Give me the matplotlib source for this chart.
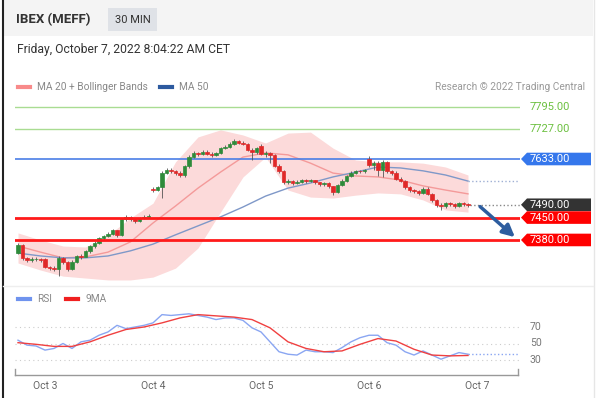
import numpy as np
import matplotlib.pyplot as plt
from matplotlib import transforms
from matplotlib.patches import Polygon, Rectangle
from matplotlib.lines import Line2D

plt.rcParams['font.family'] = ['Roboto', 'DejaVu Sans']

# ----------------------------
# data (30 min bars, IBEX futures)
# ----------------------------
opens = [
    7340, 7365, 7325, 7318, 7320, 7322,
    7322, 7296, 7292, 7290, 7325, 7310, 7290, 7312, 7330, 7328, 7345, 7360, 7372, 7385, 7392, 7400, 7410, 7395, 7445, 7452, 7446, 7440, 7448, 7452,
    7540, 7536, 7545, 7590, 7600, 7595, 7590, 7582, 7610, 7640, 7652, 7648, 7656, 7650, 7646, 7652, 7668, 7672, 7680, 7688, 7684, 7680, 7662, 7655,
    7675, 7648, 7652, 7645, 7612, 7595, 7560, 7565, 7558, 7562, 7566, 7563, 7566, 7560, 7556, 7558, 7548, 7530, 7552, 7565, 7580, 7590, 7596, 7594,
    7632, 7614, 7622, 7600, 7624, 7596, 7590, 7572, 7565, 7545, 7536, 7533, 7528, 7540, 7525, 7505, 7490, 7485, 7496, 7492, 7485, 7494, 7492,
]
closes = [
    7365, 7325, 7318, 7320, 7322, 7318,
    7296, 7292, 7290, 7325, 7310, 7290, 7312, 7330, 7328, 7345, 7360, 7372, 7385, 7392, 7400, 7410, 7395, 7445, 7452, 7446, 7440, 7448, 7452, 7456,
    7536, 7545, 7590, 7600, 7595, 7590, 7582, 7610, 7640, 7652, 7648, 7656, 7650, 7646, 7652, 7668, 7672, 7680, 7688, 7684, 7680, 7662, 7655, 7668,
    7648, 7652, 7645, 7612, 7595, 7560, 7565, 7558, 7562, 7566, 7563, 7566, 7560, 7556, 7558, 7548, 7530, 7552, 7565, 7580, 7590, 7596, 7594, 7598,
    7614, 7622, 7600, 7624, 7596, 7590, 7572, 7565, 7545, 7536, 7533, 7528, 7540, 7525, 7505, 7490, 7485, 7496, 7492, 7485, 7494, 7492, 7490,
]
highs = [
    7372, 7368, 7328, 7326, 7327, 7325,
    7325, 7300, 7298, 7330, 7328, 7314, 7316, 7334, 7335, 7350, 7364, 7376, 7390, 7396, 7405, 7414, 7412, 7450, 7458, 7455, 7450, 7452, 7457, 7460,
    7546, 7550, 7596, 7606, 7604, 7598, 7594, 7614, 7645, 7658, 7656, 7662, 7660, 7654, 7656, 7672, 7678, 7686, 7694, 7692, 7688, 7683, 7666, 7672,
    7680, 7658, 7656, 7648, 7616, 7598, 7570, 7568, 7566, 7570, 7570, 7570, 7568, 7562, 7562, 7560, 7550, 7556, 7570, 7584, 7594, 7600, 7600, 7602,
    7642, 7628, 7628, 7630, 7628, 7600, 7594, 7578, 7568, 7548, 7540, 7536, 7544, 7544, 7528, 7508, 7494, 7500, 7500, 7496, 7498, 7498, 7494,
]
lows = [
    7335, 7318, 7310, 7312, 7314, 7312,
    7292, 7286, 7284, 7268, 7304, 7282, 7286, 7308, 7322, 7326, 7340, 7356, 7368, 7380, 7388, 7396, 7390, 7392, 7440, 7440, 7434, 7436, 7444, 7450,
    7530, 7532, 7510, 7585, 7590, 7584, 7578, 7578, 7606, 7636, 7642, 7644, 7644, 7640, 7642, 7648, 7664, 7668, 7676, 7680, 7676, 7658, 7630, 7650,
    7644, 7640, 7620, 7608, 7590, 7554, 7556, 7552, 7554, 7558, 7558, 7560, 7554, 7550, 7550, 7542, 7522, 7526, 7548, 7560, 7576, 7586, 7588, 7590,
    7608, 7600, 7580, 7578, 7590, 7584, 7566, 7560, 7540, 7530, 7526, 7520, 7524, 7520, 7500, 7484, 7474, 7480, 7486, 7480, 7482, 7486, 7484,
]

# indicators sampled every 5 bars
ma_idx = list(range(0, 101, 5))
ma20 = [7361, 7342, 7324, 7327, 7342, 7374, 7433, 7486, 7542, 7592, 7639,
        7652, 7646, 7620, 7589, 7580, 7577, 7567, 7549, 7536, 7524]
ma50 = [7339, 7330, 7324, 7324, 7330, 7346, 7367, 7396, 7424, 7452, 7483,
        7517, 7542, 7558, 7577, 7592, 7608, 7605, 7596, 7583, 7564]
bb_upper = [7402, 7380, 7361, 7358, 7395, 7449, 7495, 7624, 7702, 7724, 7708,
            7683, 7714, 7717, 7667, 7630, 7624, 7624, 7620, 7608, 7583]
bb_lower = [7308, 7286, 7267, 7261, 7255, 7255, 7264, 7292, 7355, 7467, 7577,
            7639, 7536, 7514, 7511, 7520, 7527, 7524, 7505, 7474, 7467]

rsi_idx = list(range(0, 101, 2))
rsi = [54, 48, 47, 42, 44, 50, 44, 52, 54, 60, 64, 72, 68, 70, 72, 75, 85, 84, 85, 86,
       84, 82, 79, 81, 81, 78, 69, 64, 52, 40, 37, 36, 42, 40, 40, 39, 45, 52, 57, 60,
       60, 51, 48, 40, 36, 41, 36, 31, 35, 39, 37]
ma9_idx = list(range(0, 101, 4))
rsi_ma9 = [51, 49, 46.5, 46.5, 52, 60, 67, 70, 75, 81, 85, 83.5, 82, 79, 69, 52,
           44, 40, 41, 49, 56, 53, 43, 36, 35, 35.5]

day_ticks = [6, 30, 54, 78, 102]
day_labels = ['Oct 3', 'Oct 4', 'Oct 5', 'Oct 6', 'Oct 7']

resistances = [7795, 7727]
pivot = 7633
last_price = 7490
supports = [7450, 7380]

# ----------------------------
# figure layout in pixels
# ----------------------------
W, H = 598, 398


def fx(x):
    return x / W


def fy(y):
    return 1 - y / H


def idx(px):
    return (px - 18) / 4.5


fig = plt.figure(figsize=(5.98, 3.98), dpi=100)
fig.patch.set_facecolor('white')

fig.add_artist(Rectangle((fx(3), fy(36)), fx(593) - fx(3), fy(0) - fy(36),
                         transform=fig.transFigure, facecolor='#f4f4f4', edgecolor='none'))
fig.add_artist(Line2D([fx(2.5), fx(2.5)], [0, 1], transform=fig.transFigure, color='#222', lw=1.5))
fig.add_artist(Line2D([fx(593.5), fx(593.5)], [fy(398), fy(0)], transform=fig.transFigure, color='#e6e6e6', lw=1))
fig.add_artist(Line2D([fx(3), fx(593)], [fy(286), fy(286)], transform=fig.transFigure, color='#eeeeee', lw=1))

# header
fig.text(fx(16), fy(20), 'IBEX (MEFF)', fontsize=9.5, fontweight='bold', color='#333', va='center')
fig.add_artist(Rectangle((fx(108), fy(31)), fx(157) - fx(108), fy(8) - fy(31),
                         transform=fig.transFigure, facecolor='#dfe2e7', edgecolor='none'))
fig.text(fx(132.5), fy(20), '30 MIN', fontsize=8, color='#333', va='center', ha='center')
fig.text(fx(17), fy(49), 'Friday, October 7, 2022 8:04:22 AM CET', fontsize=8.7, color='#333', va='center')

# legends
fig.add_artist(Line2D([fx(18), fx(30)], [fy(87), fy(87)], transform=fig.transFigure, color='#f88a8a', lw=3))
fig.text(fx(37), fy(87), 'MA 20 + Bollinger Bands', fontsize=7.3, color='#888', va='center')
fig.add_artist(Line2D([fx(160), fx(172)], [fy(87), fy(87)], transform=fig.transFigure, color='#2d5a9f', lw=3))
fig.text(fx(179), fy(87), 'MA 50', fontsize=7.3, color='#888', va='center')
fig.text(fx(585), fy(87), 'Research \u00a9 2022 Trading Central', fontsize=7.3, color='#999', va='center', ha='right')

fig.add_artist(Line2D([fx(18), fx(30)], [fy(299), fy(299)], transform=fig.transFigure, color='#6f93ee', lw=3))
fig.text(fx(37), fy(299), 'RSI', fontsize=7.3, color='#888', va='center')
fig.add_artist(Line2D([fx(66), fx(78)], [fy(299), fy(299)], transform=fig.transFigure, color='#f02020', lw=3))
fig.text(fx(85), fy(299), '9MA', fontsize=7.3, color='#888', va='center')

# ----------------------------
# price panel
# ----------------------------
ax = fig.add_axes([fx(15), fy(282), fx(520) - fx(15), fy(95) - fy(282)])
ax.set_xlim(idx(15), idx(520))
ax.set_ylim(7633 - 123 * 3.125, 7633 + 64 * 3.125)
ax.axis('off')

ax.fill_between(ma_idx, bb_lower, bb_upper, color='#fcdada', lw=0, zorder=1)
ax.plot(ma_idx, ma20, color='#f49a9a', lw=1, zorder=2)
ax.plot(ma_idx, ma50, color='#7f98c8', lw=1, zorder=2)

for lvl in resistances:
    ax.axhline(lvl, color='#a9dc92', lw=1, zorder=2)
ax.axhline(pivot, color='#4a7ee6', lw=1.2, zorder=2)
for lvl in supports:
    ax.axhline(lvl, color='#ff1a1a', lw=2, zorder=4)

n = len(closes)
x = np.arange(n)
ax.vlines(x, lows, highs, color='#555', lw=0.6, zorder=3)
for i in range(n):
    up = closes[i] >= opens[i]
    col = '#2e8b3a' if up else '#e02828'
    ax.bar(i, closes[i] - opens[i], bottom=opens[i], width=0.7, color=col,
           edgecolor=col, lw=0.5, zorder=3)

# dotted projections
ax.plot([ma_idx[-1], idx(520)], [ma50[-1], ma50[-1]], ':', color='#9fb0d4', lw=1, zorder=2)
ax.plot([n - 0.5, idx(521)], [last_price, last_price], ':', color='#888', lw=1, zorder=2)

ax.annotate('', xy=(idx(517), 7383), xytext=(idx(478), last_price),
            arrowprops=dict(arrowstyle='-|>', color='#2d5d9f', lw=2.5, mutation_scale=18),
            annotation_clip=False, zorder=5)

# price tags on the right
blend = transforms.blended_transform_factory(fig.transFigure, ax.transData)
half = 6.3 * 3.125


def price_tag(p, fc):
    pts = [(fx(521), p), (fx(527), p + half), (fx(591), p + half),
           (fx(591), p - half), (fx(527), p - half)]
    ax.add_patch(Polygon(pts, closed=True, transform=blend, facecolor=fc,
                         edgecolor='none', clip_on=False, zorder=6))
    ax.text(fx(530), p, '%.2f' % p, transform=blend, fontsize=8, color='white',
            va='center', ha='left', zorder=7, clip_on=False)


for lvl in resistances:
    ax.text(fx(530), lvl, '%.2f' % lvl, transform=blend, fontsize=8, color='#6cc040',
            va='center', ha='left', clip_on=False)
price_tag(pivot, '#3577ec')
price_tag(last_price, '#333333')
for lvl in supports:
    price_tag(lvl, '#ff0000')

# ----------------------------
# RSI panel
# ----------------------------
ax2 = fig.add_axes([fx(15), fy(372), fx(520) - fx(15), fy(305) - fy(372)])
ax2.set_xlim(idx(15), idx(520))
ax2.set_ylim(30 + (360 - 372) * 40 / 33, 30 + (360 - 305) * 40 / 33)
ax2.axis('off')
for lvl in [70, 50, 30]:
    ax2.axhline(lvl, color='#cccccc', lw=0.8, ls=(0, (1, 3)), zorder=1)
    ax2.text(idx(530), lvl, str(lvl), fontsize=7.5, color='#777', va='center', ha='left', clip_on=False)
ax2.plot(rsi_idx, rsi, color='#8aa6f2', lw=1, zorder=2)
ax2.plot(ma9_idx, rsi_ma9, color='#f04040', lw=1, zorder=3)
ax2.plot([rsi_idx[-1], idx(521)], [rsi[-1], rsi[-1]], ':', color='#8aa6f2', lw=1, zorder=2)

# time axis
fig.add_artist(Line2D([fx(15), fx(518)], [fy(375), fy(375)], transform=fig.transFigure, color='#999', lw=1))
for xp in (15, 518):
    fig.add_artist(Line2D([fx(xp), fx(xp)], [fy(375), fy(369)], transform=fig.transFigure, color='#999', lw=1))
for t, lab in zip(day_ticks, day_labels):
    fig.text(fx(18 + 4.5 * t), fy(386), lab, fontsize=7.5, color='#666', ha='center', va='center')

fig.savefig('out.png', dpi=100)
